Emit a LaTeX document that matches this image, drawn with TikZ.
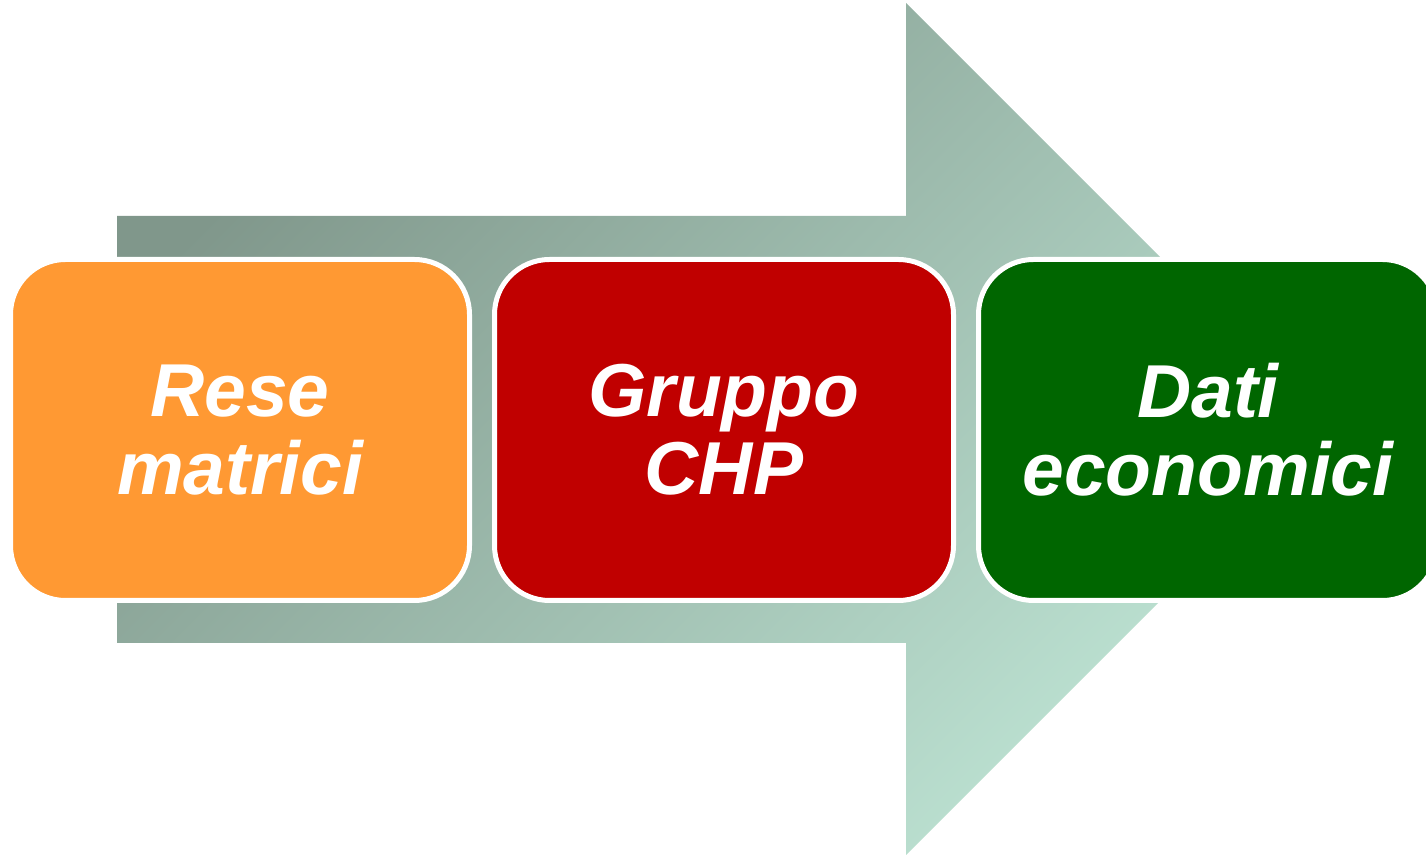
\documentclass[tikz,border=0pt]{standalone}
\usepackage{fontspec}
\setmainfont{Liberation Sans}
\usepackage{tikz}
\usetikzlibrary{positioning, shadings}
\tikzset{>=latex}
\definecolor{arrowdark}{RGB}{128,151,139}
\definecolor{arrowlight}{RGB}{190,228,212}
\definecolor{boxorange}{RGB}{255,153,51}
\definecolor{boxred}{RGB}{192,0,0}
\definecolor{boxgreen}{RGB}{0,102,0}

\begin{document}
\begin{tikzpicture}[x=0.5pt,y=-0.5pt,node distance=242pt,on grid,
    stage/.style={draw=white,line width=2.5pt,rounded corners=27.5pt,
        minimum width=229.5pt,minimum height=170.5pt,inner sep=0pt,
        text=white,align=center,
        font=\fontsize{37.5}{39}\selectfont\bfseries\itshape}]
    \useasboundingbox (0,0) rectangle (1426,855);
    \clip (0,0) rectangle (1426,855);
    % big arrow behind the boxes
    \shade[top color=arrowdark,bottom color=arrowlight,shading angle=45]
        (117,216) -- (906,216) -- (906,3) -- (1332,429)
        -- (906,855) -- (906,643) -- (117,643) -- cycle;
    \node[stage,fill=boxorange] (rese) at (240,430) {Rese\\matrici};
    \node[stage,fill=boxred] (gruppo) [right=of rese] {Gruppo\\CHP};
    \node[stage,fill=boxgreen] (dati) [right=of gruppo] {Dati\\economici};
\end{tikzpicture}
\end{document}
